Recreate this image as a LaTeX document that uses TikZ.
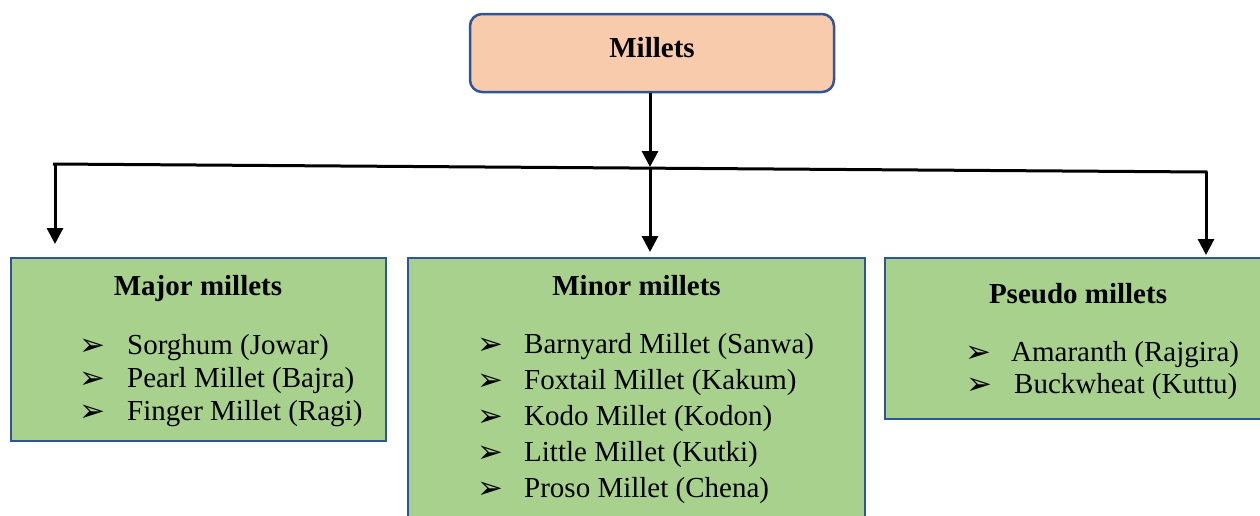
\documentclass[tikz,border=0pt]{standalone}
\usepackage{fontspec}
\setmainfont{Liberation Serif}
\newfontfamily\dejavu{DejaVu Sans}
\usetikzlibrary{arrows.meta}
\definecolor{peach}{HTML}{F8CBAD}
\definecolor{leaf}{HTML}{A9D18E}
\definecolor{edge}{HTML}{2F5597}
\begin{document}
\begin{tikzpicture}[x=1pt,y=-1pt,
  box/.style={draw=edge,line width=2.5pt,inner sep=0pt},
  head/.style={font=\fontsize{29}{33}\selectfont\bfseries,inner sep=0pt,anchor=base},
  item/.style={font=\fontsize{29}{33}\selectfont,inner sep=0pt,anchor=base west},
  bul/.style={font=\dejavu\fontsize{31}{33}\selectfont,inner sep=0pt,anchor=base west},
  conn/.style={line width=3pt,black},
  arr/.style={conn,-{Triangle[length=16pt,width=16pt]}}]
\useasboundingbox (0,0) rectangle (1260,515);
% boxes
\node[box,fill=peach,rounded corners=12pt,minimum width=364pt,minimum height=78pt] (top) at (652,53) {};
\node[head] (topt) at (652,57) {Millets};
\node[box,fill=leaf,minimum width=375pt,minimum height=183pt] (major) at (198.5,349.5) {};
\node[box,fill=leaf,minimum width=457pt,minimum height=262pt] (minor) at (636.5,389) {};
\node[box,fill=leaf,minimum width=380pt,minimum height=161pt] (pseudo) at (1075,338.5) {};
% headings
\node[head] (hmaj) at (198,295) {Major millets};
\node[head] (hmin) at (636.5,295) {Minor millets};
\node[head] (hps) at (1078,303) {Pseudo millets};
% major items
\foreach \t [count=\i] in {Sorghum (Jowar),Pearl Millet (Bajra),Finger Millet (Ragi)}{
  \node[bul] (mb\i) at (79,{354+33*(\i-1)+1}) {➢};
  \node[item] (mi\i) at (127,{354+33*(\i-1)}) {\t};
}
% minor items
\foreach \t [count=\i] in {Barnyard Millet (Sanwa),Foxtail Millet (Kakum),Kodo Millet (Kodon),Little Millet (Kutki),Proso Millet (Chena)}{
  \node[bul] (nb\i) at (477,{353+36*(\i-1)+1}) {➢};
  \node[item] (ni\i) at (524,{353+36*(\i-1)}) {\t};
}
% pseudo items
\node[bul] (pb1) at (965,362) {➢};
\node[item] (pi1) at (1011,361) {Amaranth (Rajgira)};
\node[bul] (pb2) at (966,394) {➢};
\node[item] (pi2) at (1014,393) {Buckwheat (Kuttu)};
% connectors
\coordinate (jl) at (53,164);
\coordinate (jl2) at (55,164.1);
\coordinate (jm) at (650,167);
\coordinate (jr) at (1207.5,172);
\coordinate (jr2) at (1206,172);
\coordinate (tl) at (55,244);
\coordinate (tm) at (650,252);
\coordinate (tr) at (1206,255);
\draw[conn] (jl) -- (jr);
\draw[arr] (top.south -| jm) -- (jm);
\draw[arr] (jl2) -- (tl);
\draw[arr] (jm) -- (tm);
\draw[arr] (jr2) -- (tr);
\end{tikzpicture}
\end{document}
